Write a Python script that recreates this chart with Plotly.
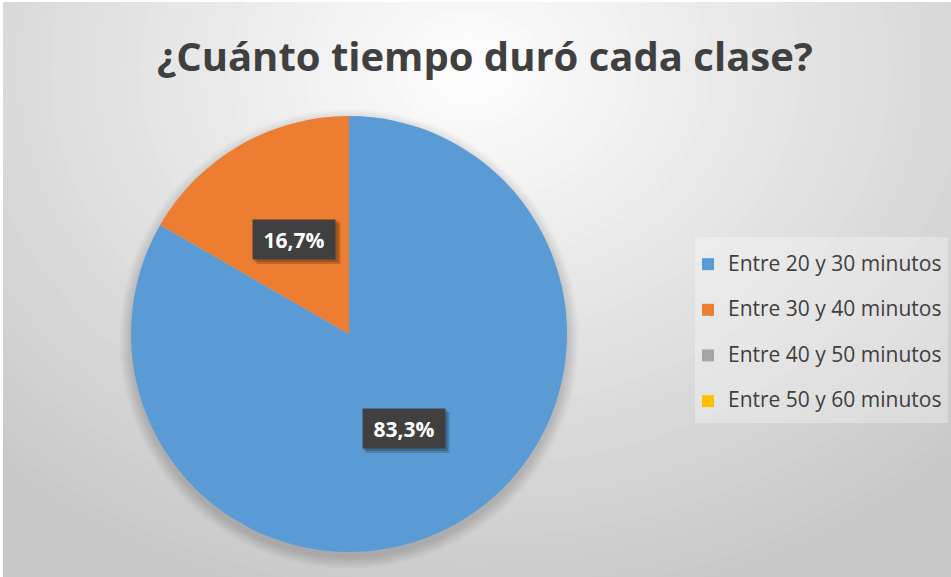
import math
import plotly.graph_objects as go

# ---- data ----
categories = ["Entre 20 y 30 minutos", "Entre 30 y 40 minutos",
              "Entre 40 y 50 minutos", "Entre 50 y 60 minutos"]
values = [5, 1, 0, 0]
colors = ["#5B9BD5", "#ED7D31", "#A5A5A5", "#FFC000"]
title_text = "¿Cuánto tiempo duró cada clase?"

# ---- geometry ----
W, H = 951, 577
cx_px, cy_px, R_px = 349, 334, 218
dom_x = [(cx_px - R_px) / W, (cx_px + R_px) / W]
dom_y = [(H - cy_px - R_px) / H, (H - cy_px + R_px) / H]

FONT = "Open Sans"
TXT = "#404040"

legend_labels = [f'<span style="font-size:21px">{c}</span><br> ' for c in categories]

fig = go.Figure()
fig.add_trace(go.Pie(
    labels=legend_labels,
    values=values,
    marker=dict(colors=colors, line=dict(width=0)),
    sort=False,
    direction="clockwise",
    rotation=0,
    textinfo="none",
    hovertemplate="%{label}: %{percent}<extra></extra>",
    domain=dict(x=dom_x, y=dom_y),
))

shapes = []
def px_rect(x0, y0, x1, y1, layer="below", **kw):
    return dict(xref="paper", yref="paper", x0=x0 / W, x1=x1 / W,
                y0=1 - y1 / H, y1=1 - y0 / H, layer=layer, **kw)

# radial gradient background
gcx, gcy = 470, 70
tmax = 720
N = 48
for i in range(N):
    t = tmax * (1 - i / N)
    g = 255 - 55 * min(1.0, t / 700)
    col = f"rgb({int(g)},{int(g)},{int(g)})"
    shapes.append(dict(type="circle", **px_rect(gcx - t, gcy - 0.8 * t, gcx + t, gcy + 0.8 * t,
                                                 fillcolor=col, line=dict(width=0))))
# white border strips
shapes.append(dict(type="rect", **px_rect(0, 0, 3, H, fillcolor="white", line=dict(width=0))))
shapes.append(dict(type="rect", **px_rect(0, 0, W, 2, fillcolor="white", line=dict(width=0))))

# pie shadow (soft)
for k in range(12, 0, -1):
    r = R_px + k
    shapes.append(dict(type="circle", **px_rect(cx_px - r, cy_px + 5 - r, cx_px + r, cy_px + 5 + r,
                                                 fillcolor="rgba(0,0,0,0.012)", line=dict(width=0))))

# legend box
shapes.append(dict(type="rect", **px_rect(695, 237, 948, 423,
                                          fillcolor="rgba(255,255,255,0.3)", line=dict(width=0))))

# data labels
BOX_W, BOX_H, PAD = 68, 25, 7
annotations = []
total = sum(values)
cum = 0
for v in values:
    if v > 0:
        th = 2 * math.pi * (cum + v / 2) / total
        lx = cx_px + 0.5 * R_px * math.sin(th)
        ly = cy_px - 0.5 * R_px * math.cos(th)
        txt = f"{v / total * 100:.1f}".replace(".", ",") + "%"
        hw = BOX_W / 2 + PAD + 1
        hh = BOX_H / 2 + PAD + 1
        # soft drop shadow behind the label box
        for s, a in ((4, 0.18), (2, 0.18)):
            shapes.append(dict(type="rect", **px_rect(lx - hw + s, ly - hh + s, lx + hw + s, ly + hh + s,
                                                      layer="above",
                                                      fillcolor=f"rgba(0,0,0,{a})", line=dict(width=0))))
        annotations.append(dict(x=lx / W, y=1 - ly / H, xref="paper", yref="paper",
                                xanchor="center", yanchor="middle",
                                text=f"<b>{txt}</b>", showarrow=False,
                                width=BOX_W, height=BOX_H,
                                font=dict(family=FONT, size=21, color="white"),
                                bgcolor="#404040", borderpad=PAD))
    cum += v

fig.update_layout(
    width=W, height=H,
    margin=dict(l=0, r=0, t=0, b=0),
    paper_bgcolor="rgb(200,200,200)",
    plot_bgcolor="rgba(0,0,0,0)",
    separators=",.",
    title=dict(text=f"<b>{title_text}</b>", x=485 / W, xanchor="center",
               y=1 - 57 / H, yanchor="middle",
               font=dict(family=FONT, size=40, color=TXT)),
    legend=dict(x=688 / W, xanchor="left", y=1 - 247 / H, yanchor="top",
                bgcolor="rgba(0,0,0,0)", valign="top",
                font=dict(family=FONT, size=16.4, color=TXT)),
    shapes=shapes,
    annotations=annotations,
)

fig.write_html("out.html", config={"displayModeBar": False},
               post_script="document.body.style.margin='0';document.body.style.overflow='hidden';")
